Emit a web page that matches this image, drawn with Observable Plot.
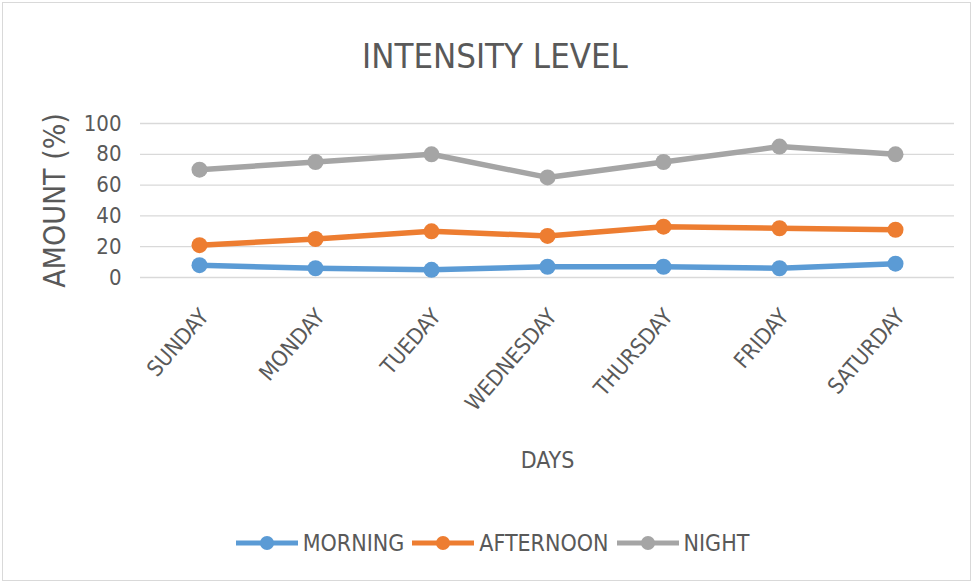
<!DOCTYPE html>
<html>
<head>
<meta charset="utf-8">
<script src="https://cdn.jsdelivr.net/npm/d3@7"></script>
<script src="https://cdn.jsdelivr.net/npm/@observablehq/plot@0.6"></script>
<style>
  html, body { margin: 0; padding: 0; background: #fff; }
  #wrap { position: relative; width: 975px; height: 585px; overflow: hidden; }
  #frame { position: absolute; left: 2px; top: 2px; width: 969px; height: 579px; border: 1px solid #d9d9d9; box-sizing: border-box; }
  #title { position: absolute; left: 0; width: 990px; top: 36px; text-align: center; font-family: "Liberation Sans Narrow", "DejaVu Sans Condensed", sans-serif; font-size: 34.5px; color: #595959; line-height: 40px; }
  #legend { position: absolute; left: 0; width: 985px; top: 530px; display: flex; justify-content: center; align-items: center; font-family: "Liberation Sans Narrow", "DejaVu Sans Condensed", sans-serif; font-size: 23px; color: #595959; }
  .item { display: flex; align-items: center; margin: 0 4px; }
  .item svg { margin-right: 5px; }
  #chart { position: absolute; left: 0; top: 0; }
</style>
</head>
<body>
<div id="wrap">
  <div id="frame"></div>
  <div id="chart"></div>
  <div id="title">INTENSITY LEVEL</div>
  <div id="legend"></div>
</div>
<script>
const days = ["SUNDAY", "MONDAY", "TUEDAY", "WEDNESDAY", "THURSDAY", "FRIDAY", "SATURDAY"];
const seriesNames = ["MORNING", "AFTERNOON", "NIGHT"];
const seriesColors = ["#5B9BD5", "#ED7D31", "#A5A5A5"];
const morning = [8, 6, 5, 7, 7, 6, 9];
const afternoon = [21, 25, 30, 27, 33, 32, 31];
const night = [70, 75, 80, 65, 75, 85, 80];
const yTicks = [0, 20, 40, 60, 80, 100];

const values = [morning, afternoon, night];
const data = [];
seriesNames.forEach((s, i) => days.forEach((d, j) => data.push({series: s, day: d, value: values[i][j]})));

const font = '"Liberation Sans Narrow", "DejaVu Sans Condensed", sans-serif';

const chart = Plot.plot({
  width: 975,
  height: 585,
  marginLeft: 140,
  marginRight: 21,
  marginTop: 123,
  marginBottom: 308,
  style: {fontFamily: font, fontSize: "21px", color: "#595959", background: "transparent", overflow: "visible"},
  x: {domain: days, type: "point", padding: 0.5},
  y: {domain: [0, 100]},
  color: {domain: seriesNames, range: seriesColors},
  marks: [
    Plot.gridY(yTicks, {stroke: "#d9d9d9", strokeOpacity: 1, strokeWidth: 1.3}),
    Plot.axisY({ticks: yTicks, tickSize: 0, tickPadding: 19, fontSize: 22, label: "AMOUNT (%)", labelAnchor: "center", labelOffset: 97, labelArrow: "none"}),
    Plot.axisX({tickSize: 0, tickRotate: -49, tickPadding: 35, fontSize: 22, dx: 5, label: "DAYS", labelAnchor: "center", labelOffset: 190, labelArrow: "none"}),
    Plot.line(data, {x: "day", y: "value", z: "series", stroke: "series", strokeWidth: 5.5}),
    Plot.dot(data, {x: "day", y: "value", fill: "series", r: 8})
  ]
});
chart.querySelectorAll("[aria-label='y-axis label'] text").forEach(t => t.setAttribute("font-size", "30"));
chart.querySelectorAll("[aria-label='x-axis label'] text").forEach(t => t.setAttribute("font-size", "23"));
document.getElementById("chart").appendChild(chart);

const legend = document.getElementById("legend");
seriesNames.forEach((s, i) => {
  const item = document.createElement("div");
  item.className = "item";
  item.innerHTML = `<svg width="62" height="20"><line x1="0" x2="62" y1="10" y2="10" stroke="${seriesColors[i]}" stroke-width="5"/><circle cx="31" cy="10" r="7" fill="${seriesColors[i]}"/></svg><span>${s}</span>`;
  legend.appendChild(item);
});
</script>
</body>
</html>
